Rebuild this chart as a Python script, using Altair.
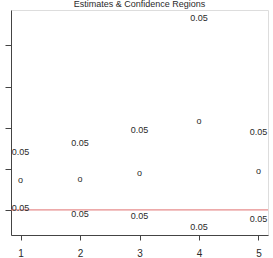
import altair as alt
import pandas as pd

# Estimates with upper/lower confidence bounds for five parameters
params = [1, 2, 3, 4, 5]
estimates = [0.73, 0.76, 0.90, 2.15, 0.95]
upper = [1.41, 1.63, 1.95, 4.66, 1.90]
lower = [0.05, -0.10, -0.15, -0.41, -0.22]
level_label = ["0.05", "0.05", "0.05", "0.05", "0.05"]
y_ticks = [0, 1, 2, 3, 4]
reference_level = 0

df = pd.DataFrame({
    "param": params,
    "est": estimates,
    "upper": upper,
    "lower": lower,
    "label": level_label,
})

FONT = "Liberation Sans"
INK = "#2a2a2a"

x_scale = alt.Scale(domain=[0.84, 5.16], nice=False, zero=False)
y_scale = alt.Scale(domain=[-0.61, 4.86], nice=False, zero=False)

x_axis = alt.Axis(values=params, title=None, grid=False, domain=True,
                  tickSize=5, labelPadding=8, labelFontSize=10,
                  labelFont=FONT, labelColor=INK, tickColor="#444",
                  domainColor="#444", labelAngle=0, format="d")
y_axis = alt.Axis(values=y_ticks, title=None, grid=False, labels=False,
                  tickSize=6, domain=True, tickColor="#444", domainColor="#444")

base = alt.Chart(df)

frame = base.mark_point(opacity=0).encode(
    x=alt.X("param:Q", scale=x_scale, axis=x_axis),
    y=alt.Y("est:Q", scale=y_scale, axis=y_axis),
)

ref = alt.Chart(pd.DataFrame({"h": [reference_level]})).mark_rule(
    color="#e07070", strokeWidth=1
).encode(y=alt.Y("h:Q", scale=y_scale))

est_marks = base.mark_text(font=FONT, fontSize=9, color=INK).encode(
    x=alt.X("param:Q", scale=x_scale),
    y=alt.Y("est:Q", scale=y_scale),
    text=alt.value("o"),
)

up_text = base.mark_text(font=FONT, fontSize=9, color=INK).encode(
    x=alt.X("param:Q", scale=x_scale),
    y=alt.Y("upper:Q", scale=y_scale),
    text="label:N",
)

low_text = base.mark_text(font=FONT, fontSize=9, color=INK).encode(
    x=alt.X("param:Q", scale=x_scale),
    y=alt.Y("lower:Q", scale=y_scale),
    text="label:N",
)

chart = alt.layer(frame, ref, est_marks, up_text, low_text).properties(
    width=257,
    height=225,
    title=alt.TitleParams("Estimates & Confidence Regions", fontSize=9,
                          font=FONT, fontWeight="normal", color=INK,
                          anchor="middle", offset=1),
    padding={"left": 11, "top": 10, "right": 5, "bottom": 23},
    autosize=alt.AutoSizeParams(type="none"),
).configure_view(
    stroke="#444", strokeWidth=1
).configure(background="white")

chart.save("out.html", embed_options={"renderer": "svg", "actions": False})
